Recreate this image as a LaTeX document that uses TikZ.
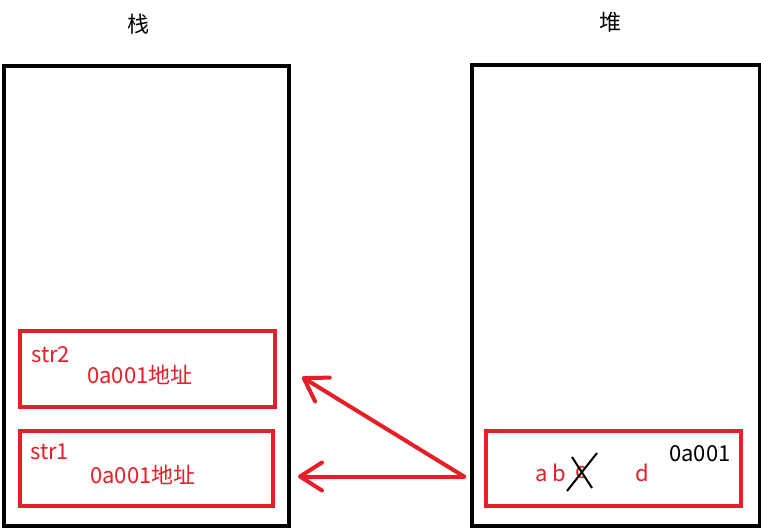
\documentclass[tikz,border=0pt]{standalone}
\usepackage{fontspec}
\setmainfont{Noto Sans CJK SC}
\usepackage{tikz}
\usetikzlibrary{arrows.meta, positioning}
\definecolor{memred}{RGB}{230,30,40}
\tikzstyle{region} = [rectangle, draw, line width=4pt, inner sep=0pt]
\tikzstyle{cell} = [rectangle, draw=memred, line width=4pt, inner sep=0pt]
\tikzstyle{lbl} = [inner sep=0pt, font=\fontsize{22}{26}\selectfont]
\tikzstyle{ptr} = [draw=memred, line width=4pt, line cap=round, line join=round, -{Straight Barb[round, length=22pt, width=28pt]}]
\tikzstyle{strike} = [draw, line width=2pt]

\begin{document}
\begin{tikzpicture}[x=1pt, y=-1pt]
		\useasboundingbox[fill=white] (0,0) rectangle (761,530);

		\node [region, minimum width=285pt, minimum height=460pt] (stack) at (146.5,296) {};
		\node [region, minimum width=288pt, minimum height=461pt] (heap) at (616,295.5) {};

		\node [lbl, above=30pt of stack, xshift=-8pt] (stacktitle) {栈};
		\node [lbl, above=31pt of heap, xshift=-6pt] (heaptitle) {堆};

		\node [cell, minimum width=255pt, minimum height=76pt] (str2) at (147.5,369) {};
		\node [cell, minimum width=253pt, minimum height=75pt] (str1) at (146.5,468.5) {};
		\node [cell, minimum width=255pt, minimum height=75pt] (obj) at (613.5,468.5) {};

		\node [lbl, text=memred, anchor=west] (name2) at (31,355) {str2};
		\node [lbl, text=memred, anchor=west] (addr2) at (87,375) {0a001地址};
		\node [lbl, text=memred, anchor=west] (name1) at (30,452) {str1};
		\node [lbl, text=memred, anchor=west] (addr1) at (90,475) {0a001地址};

		\node [lbl, text=memred, anchor=west] (strab) at (535,473) {a b};
		\node [lbl, text=memred] (strc) at (581,473) {c};
		\node [lbl, text=memred] (strd) at (642,473) {d};
		\node [lbl, anchor=west] (objaddr) at (669,454) {0a001};

		\draw[strike] ([shift={(-14,18)}]strc.center) -- ([shift={(16,-20)}]strc.center);
		\draw[strike] ([shift={(-9,-16)}]strc.center) -- ([shift={(11,15)}]strc.center);

		\coordinate (src) at ([shift={(-20,8)}]obj.west);
		\draw[ptr] (src) -- ([shift={(23,8)}]str1.east);
		\draw[ptr] (src) -- ([shift={(25,8)}]str2.east);

	\end{tikzpicture}
\end{document}
